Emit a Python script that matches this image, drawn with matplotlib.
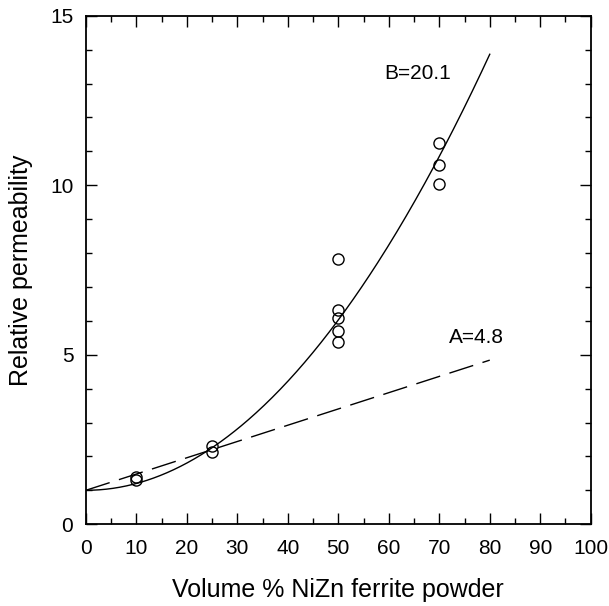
import numpy as np
import matplotlib
matplotlib.use("Agg")
import matplotlib.pyplot as plt
from matplotlib.ticker import MultipleLocator

plt.rcParams['font.family'] = ['Liberation Sans', 'DejaVu Sans']
plt.rcParams['lines.scale_dashes'] = False

# Measured permeability vs. ferrite loading (vol %)
vol_pct = [10, 10, 25, 25, 50, 50, 50, 50, 50, 70, 70, 70]
mu_meas = [1.40, 1.30, 2.30, 2.12, 7.82, 6.32, 6.07, 5.71, 5.38, 11.24, 10.60, 10.04]

# Fit coefficients shown on the plot
A_coef = 4.8    # linear model: mu = 1 + A*v
B_coef = 20.1   # quadratic model: mu = 1 + B*v^2
fit_max_pct = 80

fig = plt.figure(figsize=(6.09, 6.06), dpi=100)
ax = fig.add_axes([0.141, 0.135, 0.829, 0.839])

v = np.linspace(0, fit_max_pct, 300)
frac = v / 100.0
ax.plot(v, 1 + B_coef * frac**2, color='black', lw=1.0)
ax.plot(v, 1 + A_coef * frac, color='black', lw=1.0, dashes=(18, 7))

ax.plot(vol_pct, mu_meas, linestyle='none', marker='o', ms=8, mfc='none',
        mec='black', mew=1.0)

ax.text(72.3, 13.3, f"B={B_coef}", fontsize=15, ha='right', va='center')
ax.text(72.0, 5.5, f"A={A_coef}", fontsize=15, ha='left', va='center')

ax.set_xlim(0, 100)
ax.set_ylim(0, 15)
ax.xaxis.set_major_locator(MultipleLocator(10))
ax.xaxis.set_minor_locator(MultipleLocator(5))
ax.yaxis.set_major_locator(MultipleLocator(5))
ax.yaxis.set_minor_locator(MultipleLocator(1))
ax.tick_params(which='both', direction='in', top=True, right=True,
               labelsize=15, width=1.0)
ax.tick_params(axis='x', pad=11)
ax.tick_params(axis='y', pad=9)
ax.tick_params(which='major', length=8)
ax.tick_params(which='minor', length=4)
for s in ax.spines.values():
    s.set_linewidth(1.3)

ax.set_xlabel("Volume % NiZn ferrite powder", fontsize=18, labelpad=14)
ax.set_ylabel("Relative permeability", fontsize=18, labelpad=12)

fig.savefig("out.png", dpi=100)
